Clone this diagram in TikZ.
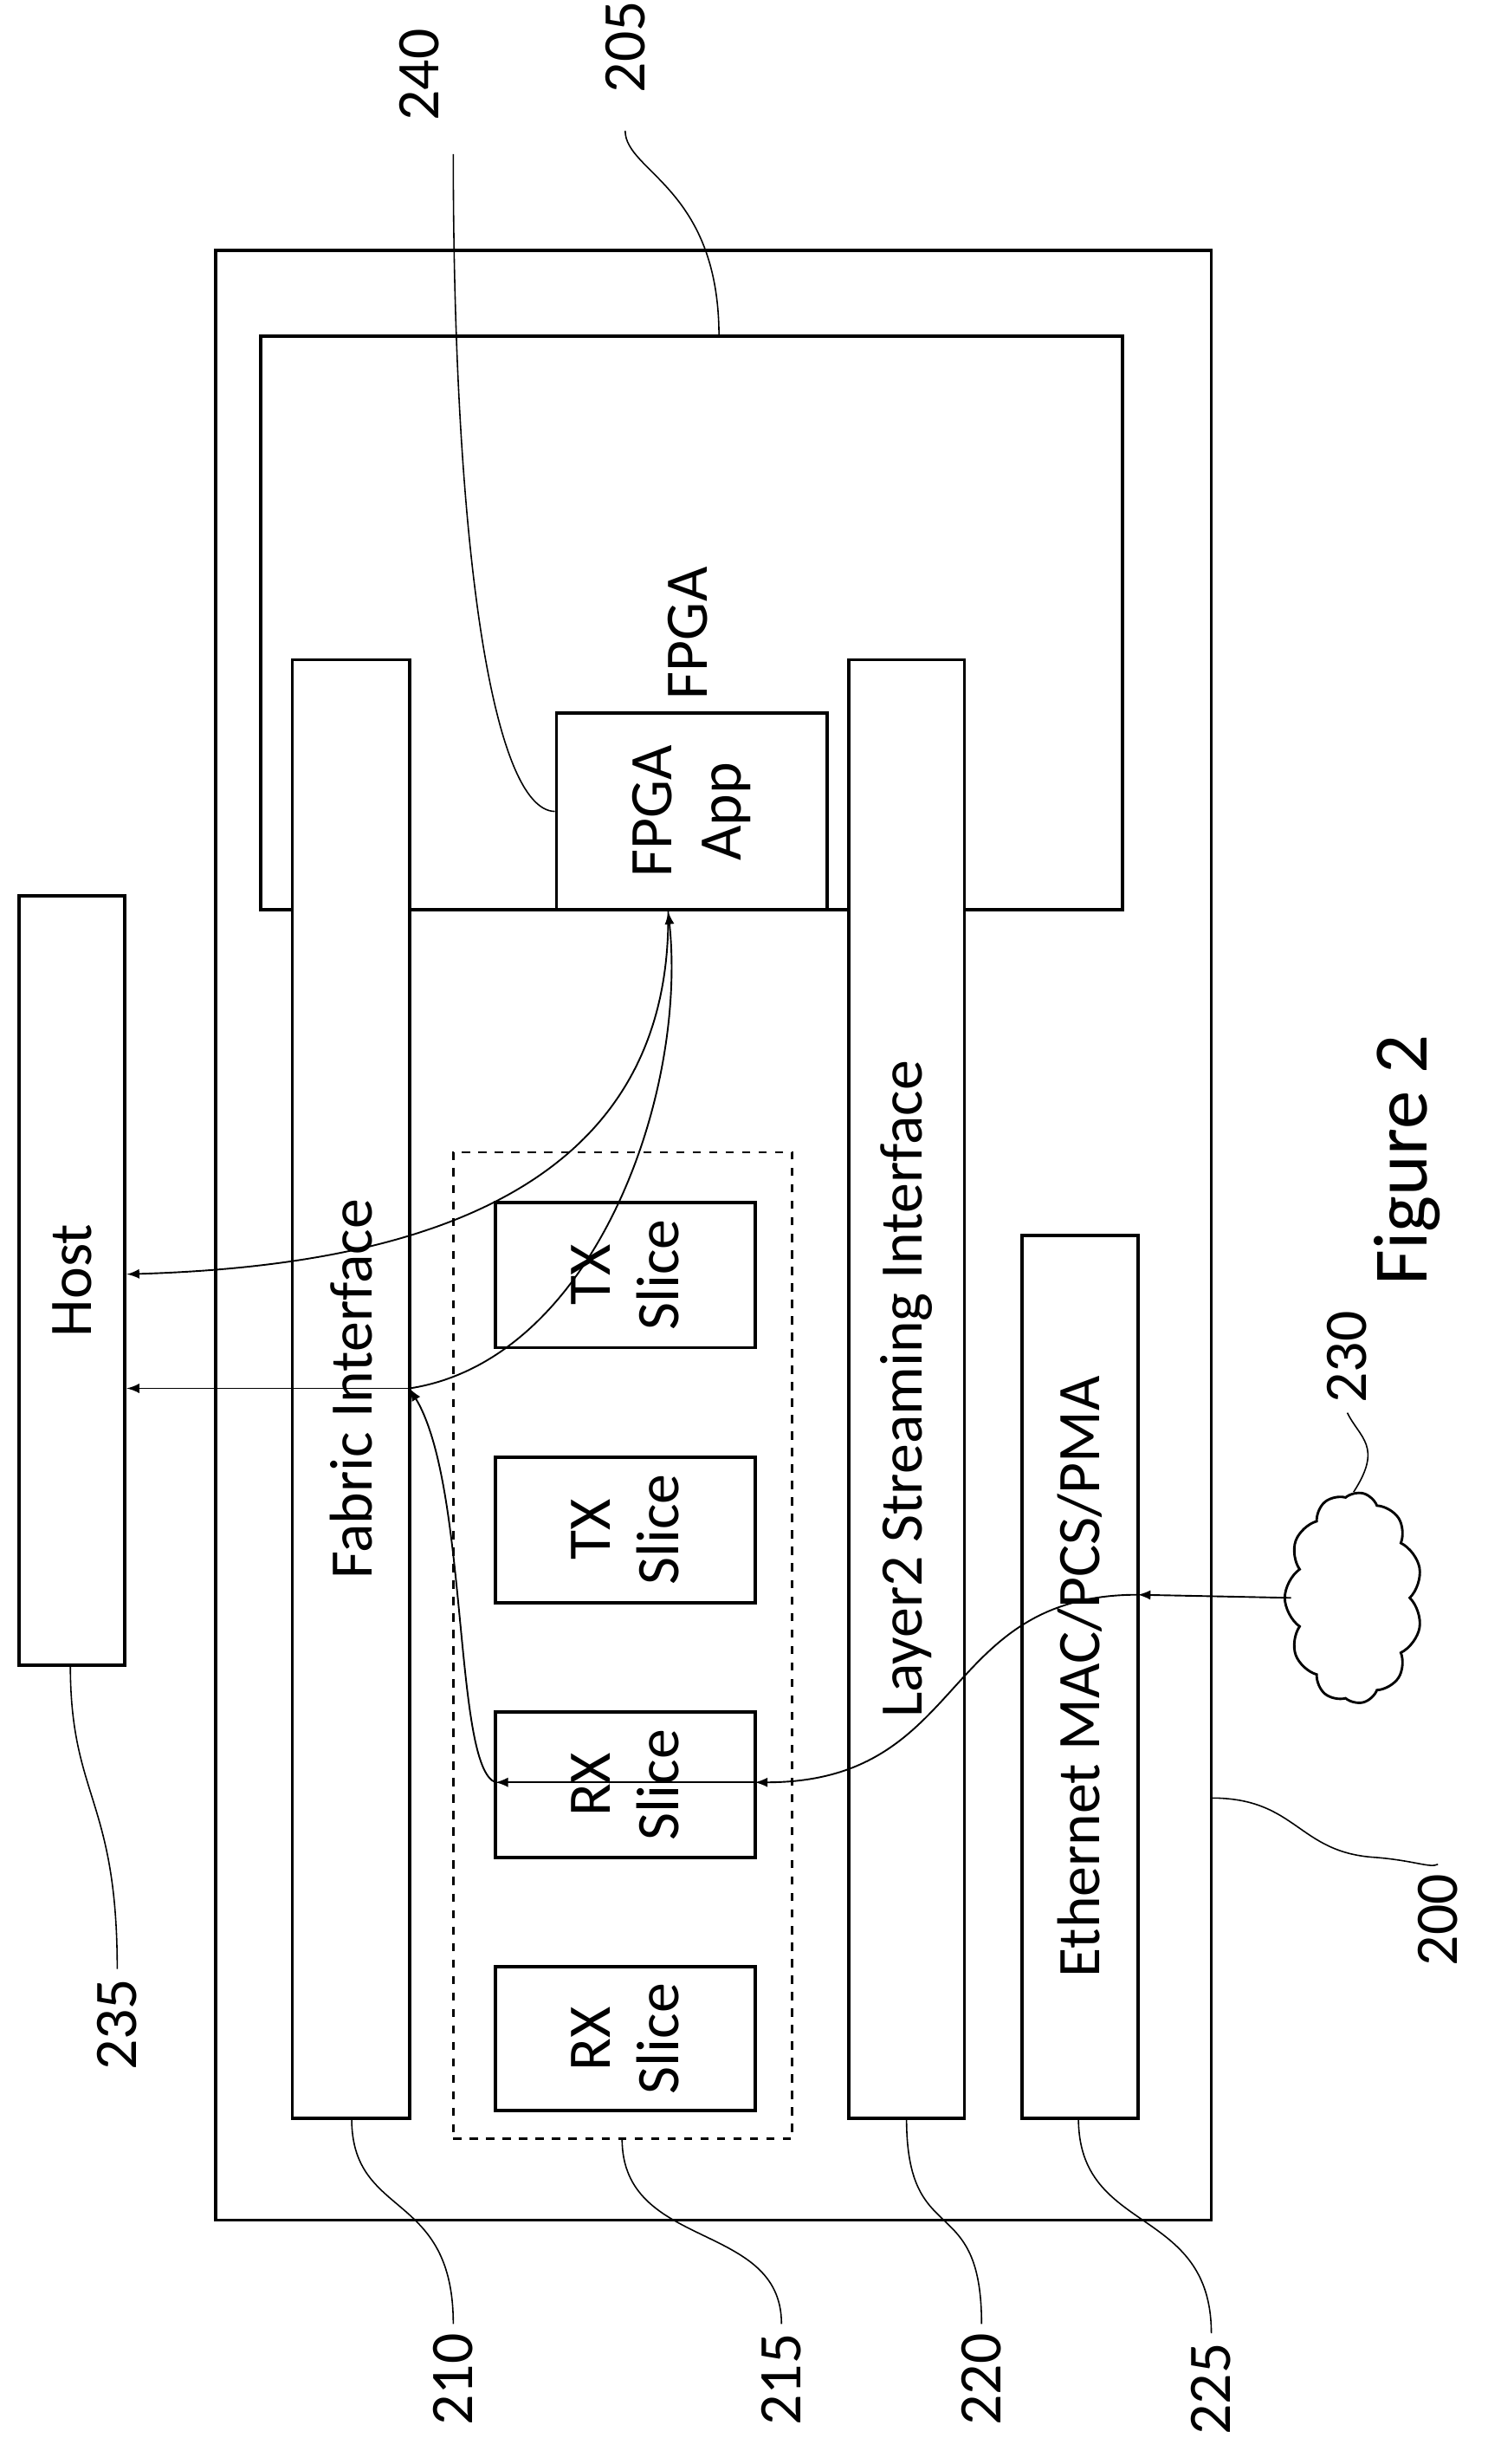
\documentclass[tikz,border=0pt]{standalone}
\usepackage{fontspec}
\setmainfont{Carlito}
\usetikzlibrary{shapes, arrows, calc, positioning, fit, shapes.symbols}

\tikzset{
  box/.style = {draw, line width=1.2pt, inner sep=0pt},
  lbl/.style = {rotate=90, align=center, font=\fontsize{22}{25}\selectfont},
  lead/.style = {line width=0.5pt},
  flow/.style = {-latex, line width=0.6pt},
}

\begin{document}
\begin{tikzpicture}[x=0.02cm, y=-0.02cm]
  \useasboundingbox (0,0) rectangle (960,1576);
  % boxes
  \node[box, fit={(138,160)(775,1420)}] (card) {};
  \node[box, fit={(167,215)(718,582)}] (fpga) {};
  \node[box, fill=white, fit={(187,422)(262,1355)}] (fabric) {};
  \node[box, fill=white, fit={(543,422)(617,1355)}] (layer2) {};
  \node[box, fill=white, fit={(356,456)(529,582)}] (app) {};
  \node[box, fit={(654,790)(728,1355)}] (eth) {};
  \node[draw, dashed, line width=0.9pt, inner sep=0pt, fit={(290,737)(507,1368)}] (slices) {};
  \node[box, fit={(317,769)(483,862)}] (tx1) {};
  \node[box, fit={(317,932)(483,1025)}] (tx2) {};
  \node[box, fit={(317,1095)(483,1188)}] (rx1) {};
  \node[box, fit={(317,1258)(483,1350)}] (rx2) {};
  \node[box, fit={(12,573)(80,1065)}] (host) {};
  \node[cloud, draw, line width=0.9pt, cloud puffs=11, cloud puff arc=110, aspect=1.4,
        minimum width=135*0.02cm, minimum height=88*0.02cm, rotate=90] (net) at (866,1022) {};

  % texts
  \node[lbl] at (440,405) {FPGA};
  \node[lbl] at (app.center) {FPGA\\App};
  \node[lbl] at (fabric.center) {Fabric Interface};
  \node[lbl] at (layer2.center) {Layer2 Streaming Interface};
  \node[lbl] at (eth.center) {Ethernet MAC/PCS/PMA};
  \foreach \s/\t in {tx1/TX, tx2/TX, rx1/RX, rx2/RX}
    \node[lbl] at (\s.center) {\t\\Slice};
  \node[lbl] at (host.center) {Host};
  \node[lbl, font=\fontsize{28}{31}\selectfont] at (900,742) {Figure 2};

  % reference numbers
  \node[lbl] (n240) at (268,48) {240};
  \node[lbl] (n205) at (400,30) {205};
  \node[lbl] (n235) at (75,1295) {235};
  \node[lbl] (n200) at (920,1228) {200};
  \node[lbl] (n210) at (290,1522) {210};
  \node[lbl] (n215) at (500,1522) {215};
  \node[lbl] (n220) at (628,1522) {220};
  \node[lbl] (n225) at (775,1528) {225};
  \node[lbl] (n230) at (862,868) {230};

  % leaders
  \draw[lead] (n240.west) ++(22,15) .. controls (290,350) and (315,518) .. (app.west);
  \draw[lead] (n205.west) ++(0,18) .. controls (400,110) and (460,120) .. (460,215);
  \draw[lead] (45,1065) .. controls (45,1150) and (75,1150) .. (n235.east);
  \draw[lead] (775,1150) .. controls (830,1150) and (830,1185) .. (880,1188) .. controls (905,1190) and (915,1195) .. (n200.east);
  \draw[lead] (225,1355) .. controls (225,1420) and (290,1400) .. (n210.east);
  \draw[lead] (398,1368) .. controls (398,1440) and (500,1420) .. (n215.east);
  \draw[lead] (580,1355) .. controls (580,1440) and (628,1400) .. (n220.east);
  \draw[lead] (690,1355) .. controls (690,1430) and (775,1410) .. (n225.east);
  \draw[lead] (net.east) .. controls (885,925) and (870,920) .. (n230.west);

  % flows
  \coordinate (fabTap) at (262,888);
  \coordinate (rxL) at (317,1140);
  \coordinate (rxR) at (483,1140);
  \coordinate (ethR) at (728,1020);
  \draw[flow] ($(app.south)+(-15,0)$) .. controls (430,770) and (250,810) .. (host.east |- 0,815);
  \draw[flow] (fabTap) .. controls (380,870) and (440,700) .. ($(app.south)+(-15,0)$);
  \draw[flow] (fabTap) -- (host.east |- fabTap);
  \draw[flow] (rxL) .. controls (290,1130) and (300,950) .. (fabTap);
  \draw[flow] (rxR) -- (rxL);
  \draw[flow] (ethR) .. controls (600,1020) and (620,1140) .. (rxR);
  \draw[flow] (net.center -| 826,0) -- (ethR);
\end{tikzpicture}
\end{document}
